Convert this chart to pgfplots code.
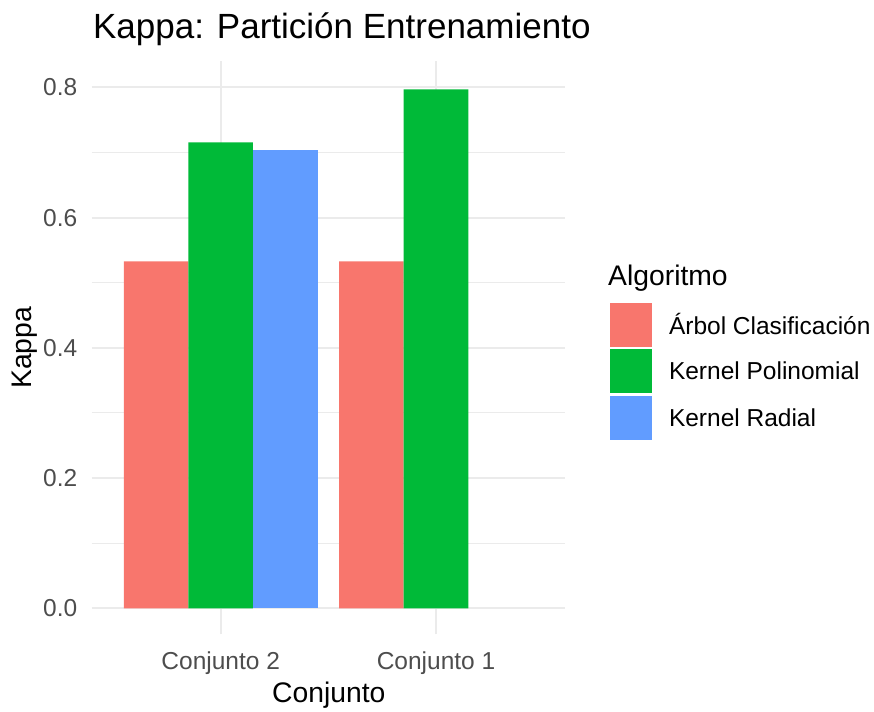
\documentclass[border=0pt]{standalone}
\usepackage{pgfplots}
\pgfplotsset{compat=1.18}
\usepackage{fontspec}
\setmainfont{Liberation Sans}
\definecolor{cA}{HTML}{F8766D}
\definecolor{cB}{HTML}{00BA38}
\definecolor{cC}{HTML}{619CFF}
\definecolor{gridc}{HTML}{EBEBEB}
\definecolor{tickc}{HTML}{4D4D4D}
\pgfplotstableread{
x y
1 0.5328
2 0.5328
}\arbol
\pgfplotstableread{
x y
1 0.7155
2 0.797
}\poli
\pgfplotstableread{
x y
1 0.7033
}\radial
\begin{document}
\begin{tikzpicture}
\useasboundingbox (0,0) rectangle (874pt,711pt);
\begin{axis}[
  name=main,
  at={(91.5pt,76.6pt)}, anchor=south west,
  scale only axis, width=473.7pt, height=573.1pt,
  xmin=0.4, xmax=2.6, ymin=-0.04, ymax=0.84,
  xtick={1,2}, xticklabels={Conjunto 2, Conjunto 1},
  ytick={0,0.2,0.4,0.6,0.8},
  yticklabels={0.0,0.2,0.4,0.6,0.8},
  minor ytick={0.1,0.3,0.5,0.7},
  xmajorgrids, ymajorgrids, yminorgrids,
  major grid style={color=gridc, line width=2pt},
  minor grid style={color=gridc, line width=1pt},
  axis line style={draw=none},
  tick style={draw=none},
  major tick length=0pt, minor tick length=0pt,
  ticklabel style={font=\fontsize{24.5}{29}\selectfont, text=tickc},
  yticklabel style={anchor=east, inner sep=0pt, xshift=-14pt},
  xticklabel style={anchor=base, inner sep=0pt, yshift=-35.6pt},
  title={Kappa: Partición Entrenamiento},
  title style={anchor=base west, at={(axis description cs:0.003,1.030)}, inner sep=0pt, font=\fontsize{35}{40}\selectfont},
  xlabel={Conjunto},
  xlabel style={at={(axis description cs:0.501,-0.118)}, anchor=base, inner sep=0pt, font=\fontsize{28.3}{33}\selectfont},
  ylabel={Kappa},
  ylabel style={at={(axis description cs:-0.140,0.5)}, anchor=center, inner sep=0pt, font=\fontsize{28.3}{33}\selectfont},
  ybar, bar width=0.3,
  legend cell align=left,
  legend image code/.code={\fill[#1] (0pt,-22pt) rectangle (42pt,22pt);},
  legend style={at={(axis description cs:1.0946,0.5783)}, anchor=north west,
    draw=none, fill=none, inner sep=0pt, outer sep=0pt,
    row sep=2.5pt, column sep=0pt,
    nodes={inner sep=0pt, font=\fontsize{24.5}{29}\selectfont},
    /tikz/every odd column/.style={column sep=17pt}},
]
\addplot[fill=cA, draw=none, bar shift=-0.3] table[x=x,y=y] {\arbol};
\addplot[fill=cB, draw=none, bar shift=0] table[x=x,y=y] {\poli};
\addplot[fill=cC, draw=none, bar shift=0.3] table[x=x,y=y] {\radial};
\legend{Árbol Clasificación, Kernel Polinomial, Kernel Radial}
\end{axis}
\path (main.south west) ++(516.5pt,348.4pt) node[anchor=base west, inner sep=0pt, font=\fontsize{28.3}{33}\selectfont] {Algoritmo};
\end{tikzpicture}
\end{document}
